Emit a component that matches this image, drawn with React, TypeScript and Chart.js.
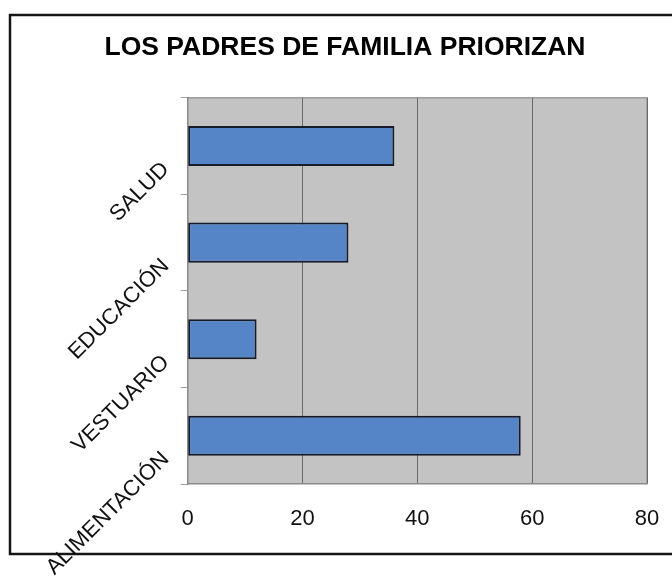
import React, { useEffect, useRef } from 'react';
import { Chart, registerables } from 'chart.js';

Chart.register(...registerables);

const categories = ['SALUD', 'EDUCACIÓN', 'VESTUARIO', 'ALIMENTACIÓN'];
const values = [36, 28, 12, 58];
const xMin = 0;
const xMax = 80;
const xStep = 20;
const titleText = 'LOS PADRES DE FAMILIA PRIORIZAN';

const FONT = "'Liberation Sans', Arial, Helvetica, sans-serif";

const framePlugin = {
  id: 'frameBg',
  beforeDraw(chart: any) {
    const { ctx, chartArea: a, width, height } = chart;
    ctx.save();
    ctx.fillStyle = '#ffffff';
    ctx.fillRect(0, 0, width, height);
    ctx.fillStyle = '#c3c3c3';
    ctx.fillRect(a.left, a.top, a.right - a.left, a.bottom - a.top);
    ctx.strokeStyle = '#9c9c9c';
    ctx.lineWidth = 1.5;
    ctx.beginPath();
    ctx.moveTo(a.left, a.top);
    ctx.lineTo(a.right, a.top);
    ctx.lineTo(a.right, a.bottom);
    ctx.stroke();
    ctx.strokeStyle = '#151515';
    ctx.lineWidth = 2.5;
    ctx.strokeRect(10, 15, 720, 539);
    ctx.restore();
  },
};

export default function App() {
  const ref = useRef<HTMLCanvasElement | null>(null);

  useEffect(() => {
    if (!ref.current) return;
    const chart = new Chart(ref.current, {
      type: 'bar',
      data: {
        labels: categories,
        datasets: [
          {
            data: values,
            backgroundColor: '#5585c6',
            borderColor: '#161b2c',
            borderWidth: 2,
            borderSkipped: false,
            barPercentage: 0.415,
            categoryPercentage: 1,
          },
        ],
      },
      options: {
        indexAxis: 'y',
        animation: false,
        responsive: false,
        maintainAspectRatio: false,
        layout: { padding: { left: 43, right: 25, top: 32, bottom: 0 } },
        plugins: {
          legend: { display: false },
          tooltip: { enabled: false },
          title: {
            display: true,
            text: titleText,
            color: '#000',
            font: { family: FONT, size: 26.5, weight: 'bold' },
            padding: { top: 0, bottom: 34 },
          },
        },
        scales: {
          x: {
            type: 'linear',
            min: xMin,
            max: xMax,
            ticks: {
              stepSize: xStep,
              color: '#111',
              font: { family: FONT, size: 22 },
              padding: 8,
            },
            grid: {
              color: '#6a6a6a',
              lineWidth: 1,
              drawTicks: true,
              tickLength: 14,
              tickColor: 'rgba(0,0,0,0)',
            },
            border: { display: true, color: '#8a8a8a', width: 1.5 },
            afterFit: (s: any) => {
              s.height = 93;
            },
          },
          y: {
            type: 'category',
            ticks: {
              color: '#111',
              font: { family: FONT, size: 22 },
              minRotation: 45,
              maxRotation: 45,
              padding: 15,
              labelOffset: 20,
            },
            grid: {
              display: true,
              drawOnChartArea: false,
              drawTicks: true,
              tickLength: 7,
              color: '#a0a0a0',
              offset: true,
            },
            border: { display: true, color: '#8a8a8a', width: 1.5 },
            afterFit: (s: any) => {
              s.width = 144.7;
            },
          },
        },
      },
      plugins: [framePlugin],
    } as any);
    return () => chart.destroy();
  }, []);

  return (
    <div style={{ position: 'absolute', left: 0, top: 0, width: 672, height: 577 }}>
      <canvas ref={ref} width={672} height={577} style={{ display: 'block' }} />
    </div>
  );
}
